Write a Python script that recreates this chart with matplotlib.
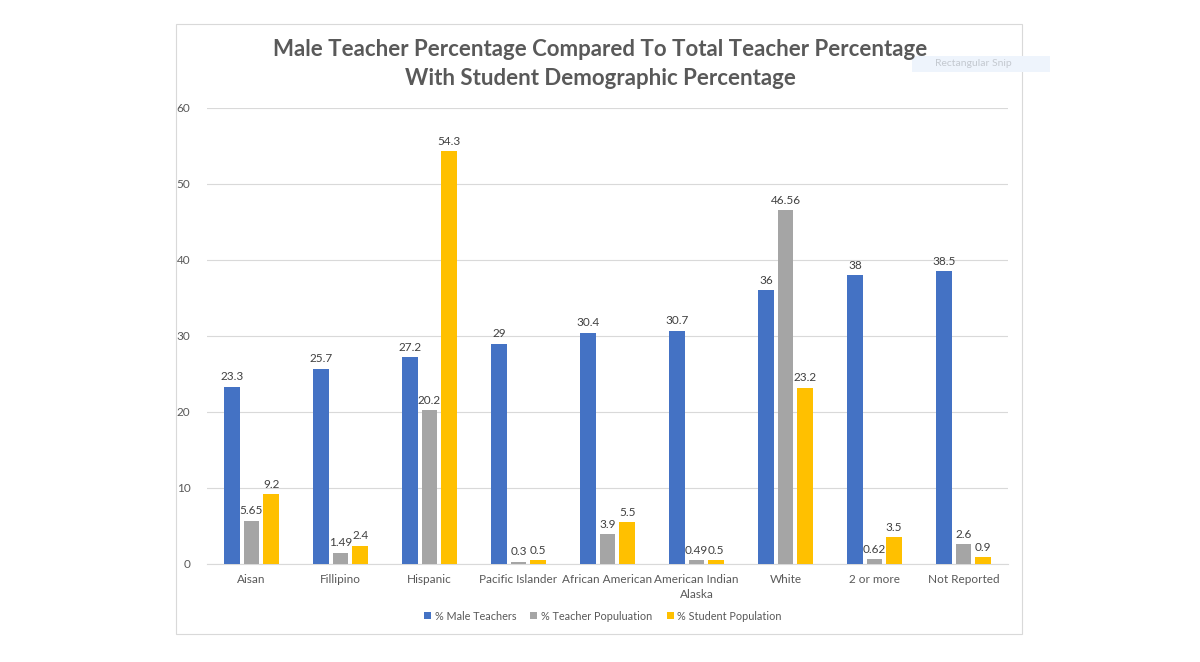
import matplotlib.pyplot as plt
import numpy as np
from matplotlib.patches import Rectangle

# chart data
categories = ['Aisan', 'Fillipino', 'Hispanic', 'Pacific Islander', 'African American',
              'American Indian\nAlaska', 'White', '2 or more', 'Not Reported']
male_teachers = [23.3, 25.7, 27.2, 29, 30.4, 30.7, 36, 38, 38.5]
teacher_pop = [5.65, 1.49, 20.2, 0.3, 3.9, 0.49, 46.56, 0.62, 2.6]
student_pop = [9.2, 2.4, 54.3, 0.5, 5.5, 0.5, 23.2, 3.5, 0.9]
value_labels = [
    ['23.3', '25.7', '27.2', '29', '30.4', '30.7', '36', '38', '38.5'],
    ['5.65', '1.49', '20.2', '0.3', '3.9', '0.49', '46.56', '0.62', '2.6'],
    ['9.2', '2.4', '54.3', '0.5', '5.5', '0.5', '23.2', '3.5', '0.9'],
]
series_names = ['% Male Teachers', '% Teacher Populuation', '% Student Population']
colors = ['#4472C4', '#A5A5A5', '#FFC000']

plt.rcParams['font.family'] = ['Lato', 'DejaVu Sans']

fig = plt.figure(figsize=(12, 6.62), dpi=100)
fig.patch.set_facecolor('white')

# chart frame
fig.patches.append(Rectangle((176 / 1200, 1 - 634 / 662), (1022 - 176) / 1200, (634 - 24) / 662,
                             transform=fig.transFigure, fill=False, edgecolor='#D9D9D9', linewidth=0.8))

ax = fig.add_axes([207 / 1200, 1 - 564 / 662, (1008 - 207) / 1200, (564 - 108) / 662])

x = np.arange(len(categories))
width = 0.175
step = 0.221
for i, vals in enumerate([male_teachers, teacher_pop, student_pop]):
    bars = ax.bar(x + (i - 1) * step, vals, width, color=colors[i], label=series_names[i], zorder=3)
    for b, lab in zip(bars, value_labels[i]):
        ax.text(b.get_x() + b.get_width() / 2, b.get_height() + 0.6, lab,
                ha='center', va='bottom', fontsize=8.5, color='#404040')

ax.set_xlim(-0.5, len(categories) - 0.5)
ax.set_ylim(0, 60)
ax.set_yticks(range(0, 61, 10))
ax.grid(axis='y', color='#D9D9D9', linewidth=0.8, zorder=0)
for s in ['top', 'right', 'left']:
    ax.spines[s].set_visible(False)
ax.spines['bottom'].set_color('#D9D9D9')
ax.tick_params(axis='both', length=0, labelsize=8.5, labelcolor='#595959')
ax.tick_params(axis='y', pad=12)
ax.tick_params(axis='x', pad=7)
ax.set_xticks(x)
ax.set_xticklabels(categories, linespacing=1.5)

fig.text(600 / 1200, 1 - 64 / 662, 'Male Teacher Percentage Compared To Total Teacher Percentage\nWith Student Demographic Percentage',
         ha='center', va='center', fontsize=16, fontweight='bold', color='#595959', linespacing=1.45)

fig.legend(loc='center', bbox_to_anchor=(603 / 1200, 1 - 616 / 662), ncol=3, frameon=False,
           fontsize=7.8, labelcolor='#595959', handlelength=0.65, handleheight=0.65,
           handletextpad=0.35, columnspacing=1.3)

# screen snip artefact at top right
fig.patches.append(Rectangle((912 / 1200, 1 - 72 / 662), 138 / 1200, 16 / 662,
                             transform=fig.transFigure, facecolor='#EEF4FC', edgecolor='none'))
fig.text(935 / 1200, 1 - 64 / 662, 'Rectangular Snip', ha='left', va='center',
         fontsize=7.5, color='#C4C9D0')

fig.savefig('out.png', dpi=100)
